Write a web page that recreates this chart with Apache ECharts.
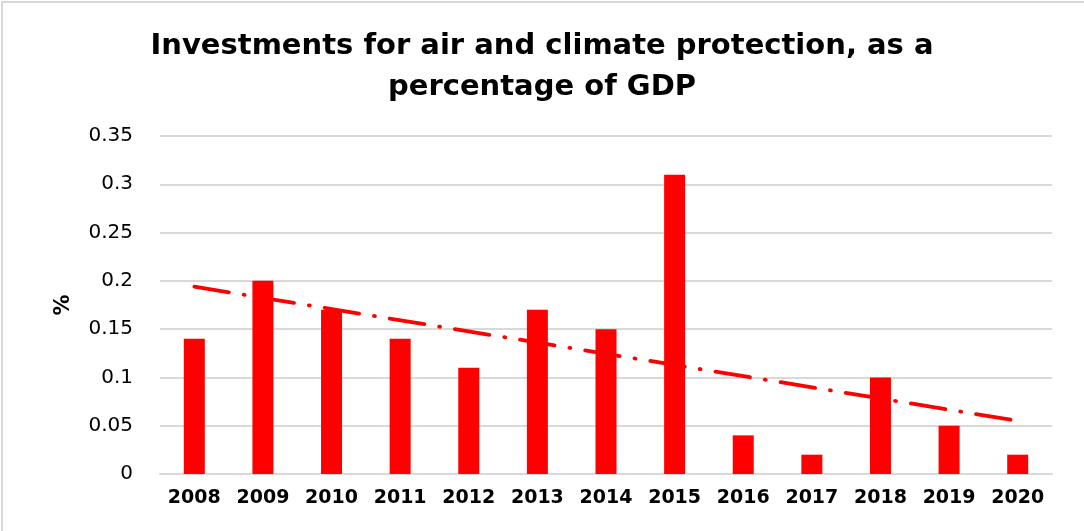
<!DOCTYPE html>
<html>
<head>
<meta charset="utf-8">
<script src="https://cdn.jsdelivr.net/npm/echarts@6/dist/echarts.min.js"></script>
<style>
html,body{margin:0;padding:0;background:#fff;}
#chart{width:1084px;height:531px;}
</style>
</head>
<body>
<div id="chart"></div>
<script>
const titleText = 'Investments for air and climate protection, as a\npercentage of GDP';
const years = ['2008','2009','2010','2011','2012','2013','2014','2015','2016','2017','2018','2019','2020'];
const values = [0.14, 0.20, 0.17, 0.14, 0.11, 0.17, 0.15, 0.31, 0.04, 0.02, 0.10, 0.05, 0.02];
// trendline endpoints (first and last category)
const trendStart = 0.194;
const trendEnd = 0.055;
const yTicks = [0, 0.05, 0.1, 0.15, 0.2, 0.25, 0.3, 0.35];

const trend = years.map((y, i) => i === 0 ? trendStart : (i === years.length - 1 ? trendEnd : null));

const chart = echarts.init(document.getElementById('chart'), null, {renderer: 'canvas'});
chart.setOption({
  backgroundColor: '#fff',
  animation: false,
  graphic: [{
    type: 'rect',
    shape: {x: 2, y: 2, width: 1200, height: 700},
    style: {fill: 'none', stroke: '#d9d9d9', lineWidth: 2},
    silent: true
  }],
  title: {
    text: titleText,
    left: 'center',
    top: 21,
    textStyle: {
      fontFamily: 'DejaVu Sans',
      fontWeight: 'bold',
      fontSize: 29,
      lineHeight: 41,
      color: '#000'
    }
  },
  grid: {left: 160, right: 32, top: 136, bottom: 57, containLabel: false},
  xAxis: {
    type: 'category',
    data: years,
    axisLine: {show: true, lineStyle: {color: '#d9d9d9', width: 2}},
    axisTick: {show: false},
    axisLabel: {
      interval: 0,
      margin: 15,
      fontFamily: 'DejaVu Sans',
      fontWeight: 'bold',
      fontSize: 19,
      color: '#000'
    }
  },
  yAxis: {
    type: 'value',
    min: 0,
    max: 0.35,
    interval: 0.05,
    name: '%',
    nameLocation: 'middle',
    nameGap: 86,
    nameRotate: 90,
    nameTextStyle: {fontFamily: 'DejaVu Sans', fontWeight: 'bold', fontSize: 21, color: '#000'},
    axisLine: {show: false},
    axisTick: {show: false},
    splitLine: {lineStyle: {color: '#d9d9d9', width: 2}},
    axisLabel: {
      margin: 27,
      fontFamily: 'DejaVu Sans',
      fontSize: 20,
      color: '#000',
      formatter: v => {
        const t = yTicks.find(x => Math.abs(x - v) < 1e-9);
        return String(t !== undefined ? t : v);
      }
    }
  },
  series: [
    {
      type: 'bar',
      data: values,
      barWidth: 21,
      itemStyle: {color: '#ff0000'}
    },
    {
      type: 'line',
      data: trend,
      connectNulls: true,
      symbol: 'none',
      z: 5,
      lineStyle: {color: '#ff0000', width: 3.8, type: [35, 15, 1, 15], cap: 'round'}
    }
  ]
});
</script>
</body>
</html>
